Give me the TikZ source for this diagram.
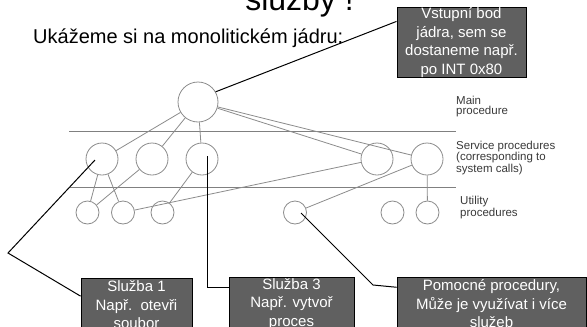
\documentclass[tikz,border=0pt]{standalone}
\usepackage{fontspec}
\setmainfont{Liberation Sans}
\usetikzlibrary{calc}

\definecolor{boxgray}{HTML}{606060}
\definecolor{linegray}{HTML}{8C8C8C}
\definecolor{labelgray}{HTML}{3A3A3A}

\tikzset{
  proc/.style={circle, draw=linegray, line width=0.8pt, inner sep=0pt},
  mainproc/.style={proc, minimum size=40pt},
  servproc/.style={proc, minimum size=32pt},
  utilproc/.style={proc, minimum size=23pt},
  call/.style={draw=linegray, line width=0.8pt},
  layer/.style={draw=gray, line width=1pt},
  note/.style={rectangle, draw=black, line width=0.9pt, fill=boxgray, text=white, inner sep=0pt, align=center, font=\fontsize{15}{18.5}\selectfont},
  leader/.style={draw=black, line width=1pt},
  layertext/.style={anchor=west, inner sep=0pt, align=left, text=labelgray, font=\fontsize{11.5}{10.5}\selectfont}
}

\begin{document}
\begin{tikzpicture}[x=1pt, y=-1pt]
    \clip (0,0) rectangle (587,327);
    \fill[white] (0,0) rectangle (587,327);

    \node (titul) [anchor=base, font=\fontsize{32}{36}\selectfont] at (299.5,10) {služby !};
    \node (uvod) [anchor=base west, inner sep=0pt, font=\fontsize{20}{24}\selectfont] at (33,43) {Ukážeme si na monolitickém jádru:};

    % vrstvy
    \draw[layer] (69,131) -- (456,131);
    \draw[layer] (69,187) -- (456,187);
    \node (lmain) [layertext] at (456,106.5) {Main\\procedure};
    \node (lserv) [layertext] at (456,158) {Service procedures\\(corresponding to\\system calls)};
    \node (lutil) [layertext] at (460,207.5) {Utility\\procedures};

    % procedury
    \node (main) [mainproc] at (198,102) {};
    \node (s1) [servproc] at (102,159) {};
    \node (s2) [servproc] at (152,159) {};
    \node (s3) [servproc] at (202,159) {};
    \node (s4) [servproc] at (377,159) {};
    \node (s5) [servproc] at (427,159) {};
    \node (u1) [utilproc] at (87.5,212.5) {};
    \node (u2) [utilproc] at (123,212.5) {};
    \node (u3) [utilproc] at (162.5,212.5) {};
    \node (u4) [utilproc] at (295,212.5) {};
    \node (u5) [utilproc] at (392.5,212.5) {};
    \node (u6) [utilproc] at (427.5,212.5) {};

    \foreach \s in {s1,s2,s3,s4,s5}
        \draw[call] (main) -- (\s);
    \draw[call] (s1) -- (u1);
    \draw[call] (s1) -- (u2);
    \draw[call] (s2) -- (u1);
    \draw[call] (s3) -- (u3);
    \draw[call] (s4) -- (u2);
    \draw[call] (s5) -- (u4);
    \draw[call] (s5) -- (u6);

    % popisky
    \node (vstup) [note, minimum width=129pt, minimum height=69pt] at (461.5,42.5) {Vstupní bod\\jádra, sem se\\dostaneme např.\\po INT 0x80};
    \node (sluzba1) [note, minimum width=111pt, minimum height=54pt] at (136.5,305) {Služba 1\\Např.\ \ otevři\\soubor};
    \node (sluzba3) [note, minimum width=125pt, minimum height=54pt] at (291.5,304) {Služba 3\\Např. vytvoř\\proces};
    \node (pomocne) [note, minimum width=189pt, minimum height=54pt] at (491.5,304) {Pomocné procedury,\\Může je využívat i více\\služeb};

    \coordinate (ohyb1) at (8,253);
    \coordinate (cil1) at (95,160);
    \coordinate (cil3) at (207,156);
    \coordinate (ohyb4) at (373,285);
    \coordinate (cil4) at (301,213);

    \draw[leader] (vstup.162) -- (main.30);
    \draw[leader] (sluzba1.171) -- (ohyb1) -- (cil1);
    \draw[leader] (sluzba3.165) -| (cil3);
    \draw[leader] (pomocne.170) -- (ohyb4) -- (cil4);
\end{tikzpicture}
\end{document}
